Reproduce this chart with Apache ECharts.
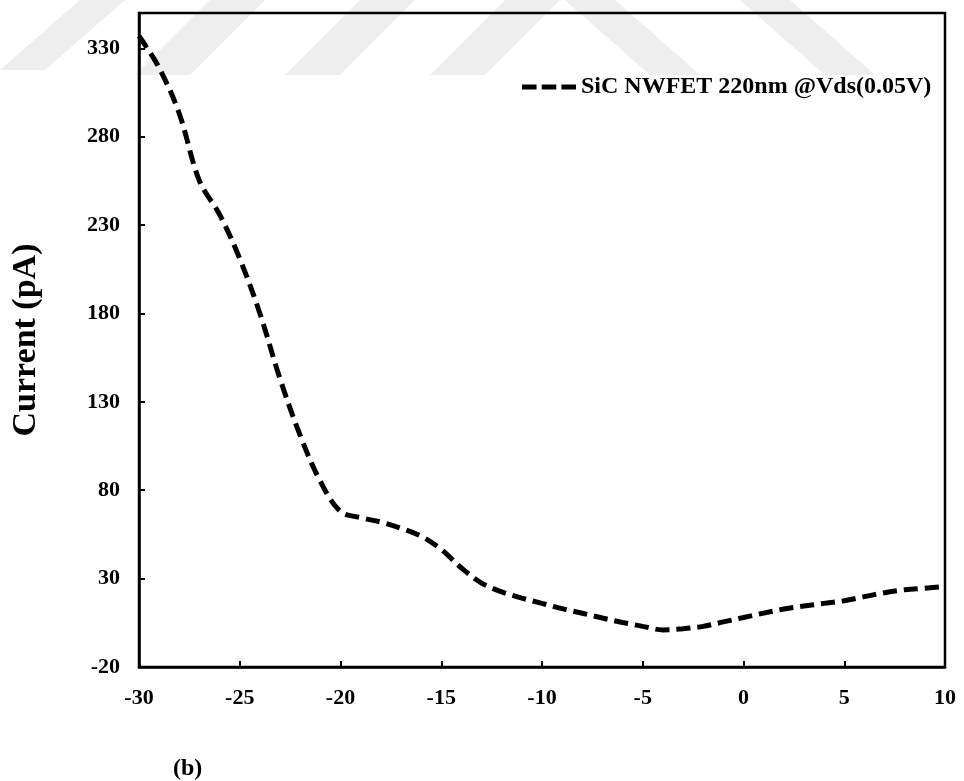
<!DOCTYPE html>
<html>
<head>
<meta charset="utf-8">
<script src="https://cdn.jsdelivr.net/npm/echarts@6/dist/echarts.min.js"></script>
<style>
html,body{margin:0;padding:0;background:#fff;}
#chart{width:964px;height:781px;}
</style>
</head>
<body>
<div id="chart"></div>
<script>
const seriesName = 'SiC NWFET 220nm @Vds(0.05V)';
const voltage = [-30,-29,-28,-27,-26,-25,-24,-23,-22,-21,-20,-19,-18,-17,-16,-15,-14,-13,-12,-11,-10,-9,-8,-7,-6,-5,-4,-3,-2,-1,0,1,2,3,4,5,6,7,8,9,10];
const current = [337,319,293,255,236,211,180,143,111,85,68,64.5,62,58.5,54,46.5,36,27.5,22.5,19,16,13,10.4,7.7,5.2,3,1,1.6,3,5.5,8,10.5,12.8,14.5,16,17.5,19.8,22,23.7,24.6,25.5];
const yTicks = [-20,30,80,130,180,230,280,330];
const xTicks = [-30,-25,-20,-15,-10,-5,0,5,10];

const font = 'Liberation Serif, Times New Roman, serif';
const chart = echarts.init(document.getElementById('chart'), null, {renderer:'canvas'});

const wm = '#eeeeee';
function band(pts){
  return {type:'polygon', z:-10, silent:true, shape:{points:pts}, style:{fill:wm}};
}

chart.setOption({
  animation:false,
  backgroundColor:'#fff',
  graphic:[
    band([[0,70],[45,70],[125,0],[80,0]]),
    band([[135,75],[190,75],[265,0],[210,0]]),
    band([[285,75],[340,75],[415,0],[360,0]]),
    band([[430,75],[485,75],[560,0],[505,0]]),
    band([[565,0],[615,0],[700,75],[650,75]]),
    band([[740,0],[790,0],[875,75],[825,75]]),
    {type:'text', left:173, top:757, z:10, style:{text:'(b)', font:'bold 24px ' + font, fill:'#000'}}
  ],
  grid:{left:139, right:19, top:13, bottom:114, show:true, borderColor:'#000', borderWidth:2.5, backgroundColor:'transparent', outerBoundsMode:'none'},
  legend:{
    show:true, left:517, top:70, itemWidth:54, itemHeight:14, itemGap:4,
    textStyle:{fontFamily:font, fontWeight:'bold', fontSize:24, color:'#000'},
    data:[{name:seriesName, icon:'path://M0,0 L14,0 L14,5 L0,5 Z M19,0 L33,0 L33,5 L19,5 Z M38,0 L52,0 L52,5 L38,5 Z', itemStyle:{color:'#000'}}]
  },
  xAxis:{
    type:'value', min:-30, max:10, interval:5,
    axisLine:{show:true, onZero:false, lineStyle:{color:'#000', width:2.5}},
    axisTick:{show:true, inside:true, length:6, lineStyle:{color:'#000', width:2}},
    axisLabel:{margin:20, fontFamily:font, fontWeight:'bold', fontSize:22, color:'#000'},
    splitLine:{show:false}
  },
  yAxis:{
    type:'value', min:-20, max:350,
    name:'Current (pA)', nameLocation:'middle', nameGap:96, nameRotate:90,
    nameTextStyle:{fontFamily:font, fontWeight:'bold', fontSize:34, color:'#000'},
    axisLine:{show:true, onZero:false, lineStyle:{color:'#000', width:2.5}},
    axisTick:{show:true, inside:true, length:6, lineStyle:{color:'#000', width:2}, customValues:yTicks},
    axisLabel:{margin:19, fontFamily:font, fontWeight:'bold', fontSize:22, color:'#000', customValues:yTicks},
    splitLine:{show:false}
  },
  series:[{
    name:seriesName, type:'line', smooth:0.35, showSymbol:false, symbol:'none',
    data: voltage.map((v,i)=>[v, current[i]]),
    lineStyle:{color:'#000', width:5, type:[14,7], cap:'butt'},
    itemStyle:{color:'#000'}
  }]
});
</script>
</body>
</html>
